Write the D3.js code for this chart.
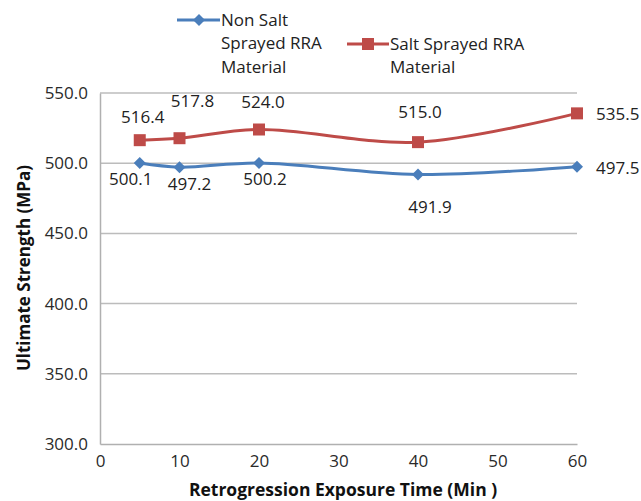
<!DOCTYPE html>
<html>
<head>
<meta charset="utf-8">
<script src="https://cdn.jsdelivr.net/npm/d3@7"></script>
<style>
  html, body { margin: 0; padding: 0; background: #ffffff; }
  svg { display: block; font-family: "Open Sans", "Noto Sans", sans-serif; }
</style>
</head>
<body>
<svg id="chart" width="641" height="501"></svg>
<script>
// ---- data ----
const exposureTimes = [5, 10, 20, 40, 60];
const nonSaltValues = [500.1, 497.2, 500.2, 491.9, 497.5];
const saltValues = [516.4, 517.8, 524.0, 515.0, 535.5];
const seriesNames = ["Non Salt Sprayed RRA Material", "Salt Sprayed RRA Material"];
const xTicks = [0, 10, 20, 30, 40, 50, 60];
const yTicks = [300, 350, 400, 450, 500, 550];
const xTitle = "Retrogression Exposure Time (Min )";
const yTitle = "Ultimate Strength (MPa)";

// ---- layout ----
const blue = "#4a7ebb", red = "#be4b48";
const plot = { left: 100, right: 577, top: 93, bottom: 444 };
const svg = d3.select("#chart");

const x = d3.scaleLinear().domain([0, 60]).range([plot.left, plot.right]);
const y = d3.scaleLinear().domain([300, 550]).range([plot.bottom, plot.top]);

// gridlines
svg.append("g").selectAll("line")
  .data(yTicks.filter(t => t > 300))
  .join("line")
  .attr("x1", plot.left).attr("x2", plot.right)
  .attr("y1", d => y(d)).attr("y2", d => y(d))
  .attr("stroke", "#bcbcbc").attr("stroke-width", 1.5);

// axes
const yAxis = svg.append("g").attr("transform", `translate(${plot.left},0)`)
  .call(d3.axisLeft(y).tickValues(yTicks).tickFormat(d3.format(".1f")).tickSize(0).tickPadding(12));
const xAxis = svg.append("g").attr("transform", `translate(0,${plot.bottom})`)
  .call(d3.axisBottom(x).tickValues(xTicks).tickFormat(d3.format("d")).tickSize(0).tickPadding(11));
[yAxis, xAxis].forEach(a => {
  a.select(".domain").attr("stroke", "#b0b0b0").attr("stroke-width", 1.5);
  a.selectAll("text").attr("font-size", 17).attr("fill", "#2a2a2a").attr("font-family", "Open Sans, sans-serif");
});

// titles
svg.append("text")
  .attr("x", 343).attr("y", 496)
  .attr("text-anchor", "middle").attr("font-weight", "bold").attr("font-size", 17.5).attr("fill", "#111")
  .text(xTitle);
svg.append("text")
  .attr("transform", "translate(30,268) rotate(-90)")
  .attr("text-anchor", "middle").attr("font-weight", "bold").attr("font-size", 17).attr("fill", "#111")
  .text(yTitle);

// lines
const line = d3.line().x(d => x(d[0])).y(d => y(d[1])).curve(d3.curveCatmullRom.alpha(0.5));
const blueData = exposureTimes.map((t, i) => [t, nonSaltValues[i]]);
const redData = exposureTimes.map((t, i) => [t, saltValues[i]]);

svg.append("path").datum(redData).attr("d", line)
  .attr("fill", "none").attr("stroke", red).attr("stroke-width", 3);
svg.append("path").datum(blueData).attr("d", line)
  .attr("fill", "none").attr("stroke", blue).attr("stroke-width", 3);

// markers
const sq = 12, dm = 6;
svg.append("g").selectAll("rect").data(redData).join("rect")
  .attr("x", d => x(d[0]) - sq / 2).attr("y", d => y(d[1]) - sq / 2)
  .attr("width", sq).attr("height", sq).attr("fill", red);
svg.append("g").selectAll("path").data(blueData).join("path")
  .attr("d", d => `M${x(d[0])},${y(d[1]) - dm}L${x(d[0]) + dm},${y(d[1])}L${x(d[0])},${y(d[1]) + dm}L${x(d[0]) - dm},${y(d[1])}Z`)
  .attr("fill", blue);

// data labels (offsets are layout only)
const blueOff = [[-9, 16, "middle"], [10, 17, "middle"], [6, 16, "middle"], [12, 32, "middle"], [19, 1, "start"]];
const redOff = [[3, -23, "middle"], [13, -37, "middle"], [4, -27, "middle"], [2, -30, "middle"], [19, 1, "start"]];
function labels(data, offs) {
  svg.append("g").selectAll("text").data(data).join("text")
    .attr("x", (d, i) => x(d[0]) + offs[i][0])
    .attr("y", (d, i) => y(d[1]) + offs[i][1])
    .attr("dy", "0.35em")
    .attr("text-anchor", (d, i) => offs[i][2])
    .attr("font-size", 17).attr("fill", "#222")
    .text(d => d3.format(".1f")(d[1]));
}
labels(blueData, blueOff);
labels(redData, redOff);

// legend
const lg = svg.append("g");
lg.append("line").attr("x1", 177).attr("x2", 220).attr("y1", 20).attr("y2", 20)
  .attr("stroke", blue).attr("stroke-width", 3);
lg.append("path").attr("d", "M199,14L205,20L199,26L193,20Z").attr("fill", blue);
["Non Salt", "Sprayed RRA", "Material"].forEach((t, i) => {
  lg.append("text").attr("x", 221).attr("y", 20 + i * 23.5).attr("dy", "0.35em")
    .attr("font-size", 17).attr("fill", "#222").text(t);
});
lg.append("line").attr("x1", 347).attr("x2", 389).attr("y1", 44).attr("y2", 44)
  .attr("stroke", red).attr("stroke-width", 3);
lg.append("rect").attr("x", 362).attr("y", 38).attr("width", 12).attr("height", 12).attr("fill", red);
["Salt Sprayed RRA", "Material"].forEach((t, i) => {
  lg.append("text").attr("x", 390).attr("y", 44 + i * 23.5).attr("dy", "0.35em")
    .attr("font-size", 17).attr("fill", "#222").text(t);
});
</script>
</body>
</html>
